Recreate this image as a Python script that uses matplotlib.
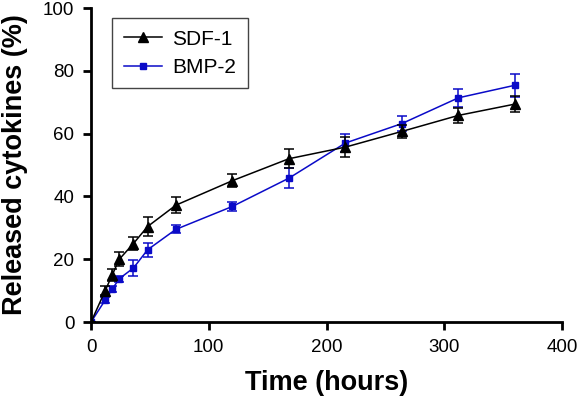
import matplotlib
matplotlib.use('Agg')
import matplotlib.pyplot as plt

plt.rcParams['font.family'] = ['Liberation Sans', 'DejaVu Sans']

# release data
time_h = [0, 12, 18, 24, 36, 48, 72, 120, 168, 216, 264, 312, 360]
sdf1 = [0, 10, 15, 20, 25, 30.4, 37.2, 45, 52, 55.7, 60.7, 65.8, 69.4]
sdf1_err = [0, 1.5, 2, 2.3, 2, 3, 2.5, 2, 3, 3.2, 2, 2.5, 2.5]
bmp2 = [0, 7, 10.5, 13.8, 17.2, 23, 29.5, 36.8, 45.8, 57, 63.2, 71.4, 75.4]
bmp2_err = [0, 1, 1, 1, 2.5, 2.2, 1.3, 1.3, 3.1, 3, 2.3, 2.8, 3.7]

fig = plt.figure(figsize=(5.8, 4.01), dpi=100)
ax = fig.add_axes([0.157, 0.197, 0.812, 0.783])

c1 = ax.errorbar(time_h, sdf1, yerr=sdf1_err, color='black', marker='^', markersize=7,
                 linewidth=1.1, elinewidth=1.1, capsize=3.5, capthick=1.1, zorder=3)
c2 = ax.errorbar(time_h, bmp2, yerr=bmp2_err, color='#0a0ac8', marker='s', markersize=4.5,
                 linewidth=1.1, elinewidth=1.1, capsize=3.5, capthick=1.1, zorder=2)

ax.set_xlim(0, 400)
ax.set_ylim(0, 100)
ax.set_xticks([0, 100, 200, 300, 400])
ax.set_yticks([0, 20, 40, 60, 80, 100])

for s in ['top', 'right']:
    ax.spines[s].set_visible(False)
for s in ['left', 'bottom']:
    ax.spines[s].set_linewidth(2)
ax.tick_params(width=2, length=6, labelsize=13.5, pad=6)

ax.set_xlabel('Time (hours)', fontsize=19.5, fontweight='bold', labelpad=10)
ax.set_ylabel('Released cytokines (%)', fontsize=19.5, fontweight='bold', labelpad=11)

# legend shows only line + marker, no error bars
leg = ax.legend([c1[0], c2[0]], ['SDF-1', 'BMP-2'], loc='upper left',
                bbox_to_anchor=(0.0446, 0.968), borderaxespad=0, fontsize=15,
                fancybox=False, framealpha=1, edgecolor='#444444', borderpad=0.55,
                handlelength=1.85, handletextpad=0.5, labelspacing=0.45)
leg.get_frame().set_linewidth(1)

fig.savefig('out.png', dpi=100)
